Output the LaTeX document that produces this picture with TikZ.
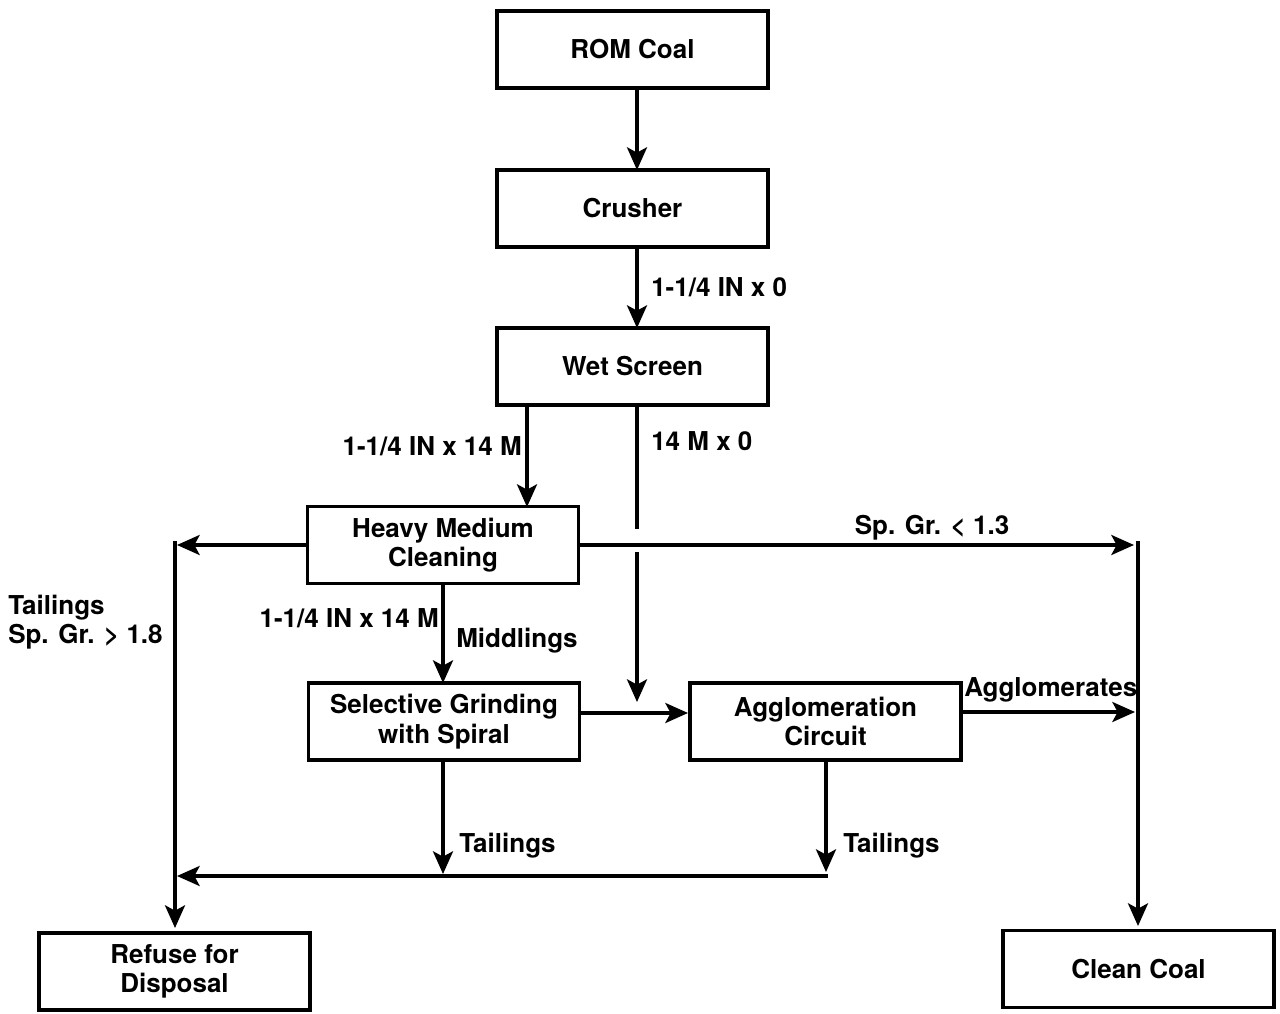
\documentclass[tikz,border=0pt]{standalone}
\usepackage{fontspec}
\setmainfont{TeX Gyre Heros}
\usetikzlibrary{arrows.meta}
\begin{document}
\begin{tikzpicture}[x=0.75pt,y=-0.75pt,
  font=\bfseries\fontsize{19.5}{22}\selectfont,
  box/.style={draw, line width=2.6pt, minimum width=203pt, minimum height=58pt, align=center, inner sep=0pt},
  flow/.style={line width=2.6pt, -{Stealth[length=17pt,width=15pt,inset=4pt]}},
  plain/.style={line width=2.6pt},
  lbl/.style={inner sep=0pt, align=left}]
\useasboundingbox (0,0) rectangle (1280,1013);

\node[box] (rom) at (632.5,49.5) {ROM Coal};
\node[box] (crusher) at (632.5,208.5) {Crusher};
\node[box] (wet) at (632.5,366.5) {Wet Screen};
\node[box] (hmc) at (443,545) {Heavy Medium\\Cleaning};
\node[box] (sgs) at (444,721.5) {Selective Grinding\\with Spiral};
\node[box] (agg) at (825.5,721.5) {Agglomeration\\Circuit};
\node[box] (refuse) at (174.5,971.5) {Refuse for\\Disposal};
\node[box] (clean) at (1138.5,969) {Clean Coal};

% coordinates
\coordinate (romb) at (637,88);
\coordinate (crut) at (637,170);
\coordinate (crub) at (637,247);
\coordinate (wett) at (637,328);
\coordinate (wA) at (527,405);
\coordinate (hmcA) at (527,507);
\coordinate (wB) at (637,405);
\coordinate (gapA) at (637,529);
\coordinate (gapB) at (637,552);
\coordinate (bB) at (637,702);
\coordinate (hl) at (308,545);
\coordinate (lt) at (175,541);
\coordinate (lb) at (175,928);
\coordinate (lhead) at (177,545);
\coordinate (hr) at (578,545);
\coordinate (rhead) at (1134,545);
\coordinate (rt) at (1138,541);
\coordinate (rb) at (1138,926);
\coordinate (hmcb) at (443,583);
\coordinate (sgst) at (443,683);
\coordinate (sgsr) at (580,713);
\coordinate (aggl) at (688,713);
\coordinate (aggr) at (963,712);
\coordinate (aggout) at (1135,712);
\coordinate (sgsb) at (443,760);
\coordinate (sgsd) at (443,874);
\coordinate (aggb) at (826,760);
\coordinate (aggd) at (826,872);
\coordinate (tailR) at (828,876);
\coordinate (tailL) at (177,876);

\draw[flow] (romb) -- (crut);
\draw[flow] (crub) -- (wett);
\draw[flow] (wA) -- (hmcA);
\draw[plain] (wB) -- (gapA);
\draw[flow] (gapB) -- (bB);
\draw[flow] (hl) -- (lhead);
\draw[flow] (lt) -- (lb);
\draw[flow] (hr) -- (rhead);
\draw[flow] (rt) -- (rb);
\draw[flow] (hmcb) -- (sgst);
\draw[flow] (sgsr) -- (aggl);
\draw[flow] (aggr) -- (aggout);
\draw[flow] (sgsb) -- (sgsd);
\draw[flow] (aggb) -- (aggd);
\draw[flow] (tailR) -- (tailL);

% labels
\node[lbl, anchor=west] (l1) at (651,287) {1-1/4 IN x 0};
\node[lbl, anchor=east] (l2) at (522,446) {1-1/4 IN x 14 M};
\node[lbl, anchor=west] (l3) at (651,441) {14 M x 0};
\node[lbl] (l4) at (932,528) {Sp. Gr. < 1.3};
\node[lbl, anchor=west] (l5) at (8,622) {Tailings\\Sp. Gr. > 1.8};
\node[lbl, anchor=east] (l6) at (439,618) {1-1/4 IN x 14 M};
\node[lbl, anchor=west] (l7) at (456,641) {Middlings};
\node[lbl, anchor=west] (l8) at (964,690) {Agglomerates};
\node[lbl, anchor=west] (l9) at (459,846) {Tailings};
\node[lbl, anchor=west] (l10) at (843,846) {Tailings};
\end{tikzpicture}
\end{document}
